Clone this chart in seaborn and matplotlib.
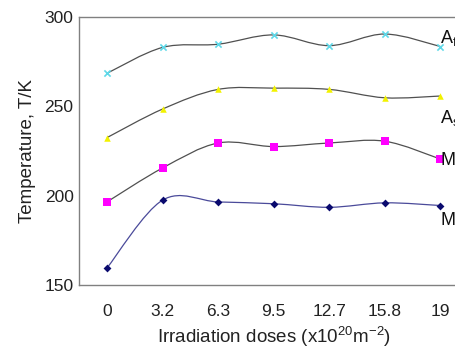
import numpy as np
import pandas as pd
import matplotlib
matplotlib.use('Agg')
import matplotlib.pyplot as plt
from matplotlib.path import Path
from matplotlib.patches import PathPatch
import seaborn as sns

# Dados
doses = ['0', '3.2', '6.3', '9.5', '12.7', '15.8', '19']
temp_af = [268.5, 283.0, 284.8, 290.0, 284.0, 290.5, 283.5]
temp_as = [232.5, 248.5, 259.5, 260.2, 259.5, 254.8, 255.8]
temp_ms = [196.5, 215.5, 229.5, 227.5, 229.5, 230.5, 220.5]
temp_mf = [159.5, 197.5, 196.5, 195.5, 193.5, 196.0, 194.5]

series = ['Af', 'As', 'Ms', 'Mf']
labels = {'Af': r'A$_\mathrm{f}$', 'As': r'A$_\mathrm{s}$',
          'Ms': r'M$_\mathrm{s}$', 'Mf': r'M$_\mathrm{f}$'}
values = {'Af': temp_af, 'As': temp_as, 'Ms': temp_ms, 'Mf': temp_mf}
marker_colors = {'Af': '#5fd8e8', 'As': '#f2f200', 'Ms': '#ff00ff', 'Mf': '#0a0a6e'}
line_colors = {'Af': '#505050', 'As': '#505050', 'Ms': '#505050', 'Mf': '#4a4a9a'}
markers = {'Af': 'x', 'As': '^', 'Ms': 's', 'Mf': 'D'}
marker_sizes = {'Af': 20, 'As': 22, 'Ms': 34, 'Mf': 16}

rows = []
for s in series:
    for i, v in enumerate(values[s]):
        rows.append({'pos': i, 'temp': v, 'serie': s})
df = pd.DataFrame(rows)

sns.set_style('white')
plt.rcParams['font.family'] = ['Liberation Sans', 'DejaVu Sans']
plt.rcParams['mathtext.fontset'] = 'custom'
plt.rcParams['mathtext.rm'] = 'Liberation Sans'
plt.rcParams['mathtext.it'] = 'Liberation Sans'


# Curva suavizada (Catmull-Rom -> Bezier), como no Excel
def smooth_path(x, y):
    pts = np.column_stack([x, y]).astype(float)
    ext = np.vstack([pts[0], pts, pts[-1]])
    verts = [pts[0]]
    codes = [Path.MOVETO]
    for i in range(len(pts) - 1):
        p0, p1, p2, p3 = ext[i], ext[i + 1], ext[i + 2], ext[i + 3]
        verts += [p1 + (p2 - p0) / 6, p2 - (p3 - p1) / 6, p2]
        codes += [Path.CURVE4] * 3
    return Path(verts, codes)


fig = plt.figure(figsize=(4.55, 3.48), dpi=100)
ax = fig.add_axes([0.174, 0.181, 0.855, 0.77])

for s in series:
    sub = df[df['serie'] == s]
    ax.add_patch(PathPatch(smooth_path(sub['pos'], sub['temp']),
                           facecolor='none', edgecolor=line_colors[s], lw=0.9))
    sns.scatterplot(data=sub, x='pos', y='temp', marker=markers[s],
                    color=marker_colors[s], s=marker_sizes[s],
                    linewidth=1.2 if s == 'Af' else 0, ax=ax, zorder=3,
                    legend=False)

# Rótulos das séries à direita (cortados na borda, como no original)
label_y = {'Af': 288, 'As': 243.5, 'Ms': 220, 'Mf': 186.5}
for s in series:
    ax.text(6.0, label_y[s], labels[s], fontsize=13, color='#111111',
            va='center', ha='left')

ax.set_xlim(-0.5, 6.5)
ax.set_ylim(150, 300)
ax.set_xticks(range(len(doses)))
ax.set_xticklabels(doses)
ax.set_yticks([150, 200, 250, 300])
ax.tick_params(axis='both', length=0, labelsize=12.5, labelcolor='#222222')
ax.tick_params(axis='x', pad=14)
ax.tick_params(axis='y', pad=4)
ax.set_xlabel(r'Irradiation doses (x10$^{20}$m$^{-2}$)', fontsize=13.5,
              color='#222222', labelpad=4)
ax.set_ylabel('Temperature, T/K', fontsize=13.5, color='#222222', labelpad=6)
for side in ['left', 'bottom', 'top']:
    ax.spines[side].set_color('#808080')
    ax.spines[side].set_linewidth(1.0)
ax.spines['right'].set_visible(False)

fig.savefig('out.png', dpi=100)
